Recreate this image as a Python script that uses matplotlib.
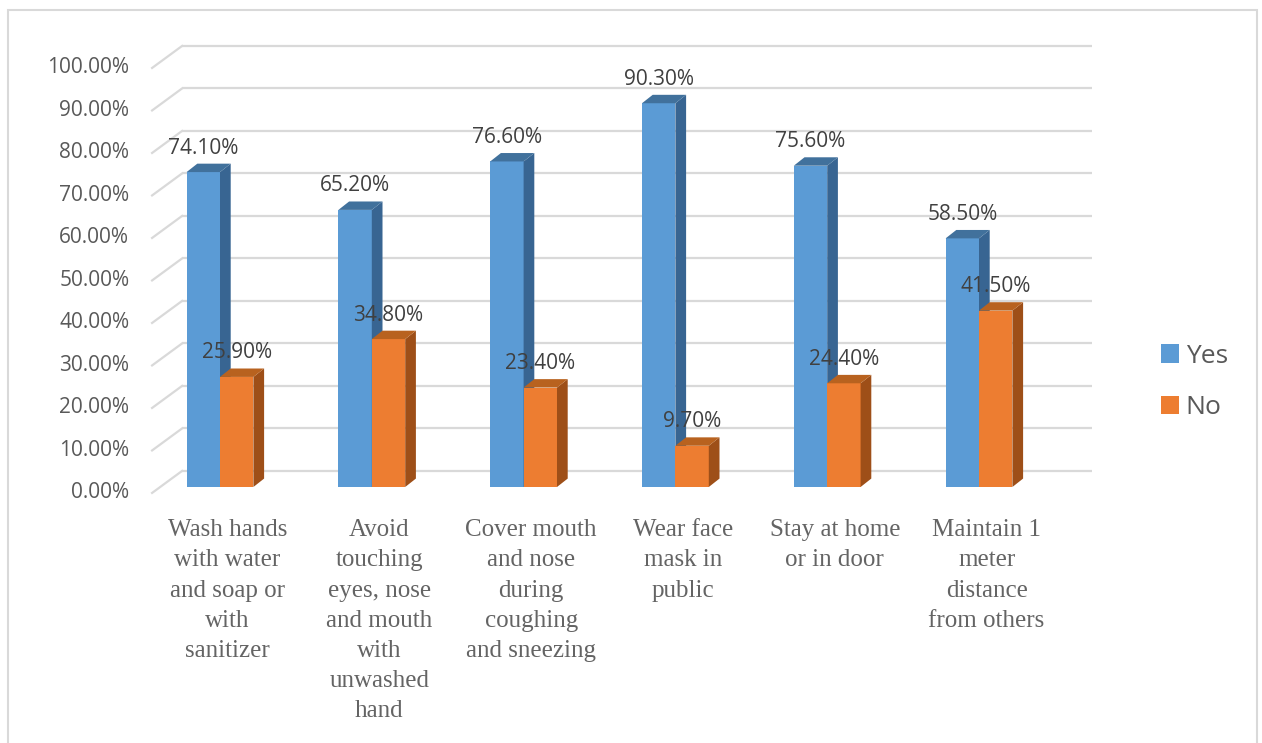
import matplotlib
matplotlib.use("Agg")
import matplotlib.pyplot as plt
from matplotlib.patches import Polygon, Patch, Rectangle

# Data
categories = [
    "Wash hands\nwith water\nand soap or\nwith\nsanitizer",
    "Avoid\ntouching\neyes, nose\nand mouth\nwith\nunwashed\nhand",
    "Cover mouth\nand nose\nduring\ncoughing\nand sneezing",
    "Wear face\nmask in\npublic",
    "Stay at home\nor in door",
    "Maintain 1\nmeter\ndistance\nfrom others",
]
yes_vals = [74.1, 65.2, 76.6, 90.3, 75.6, 58.5]
no_vals = [25.9, 34.8, 23.4, 9.7, 24.4, 41.5]
series_names = ["Yes", "No"]
y_ticks = [0, 10, 20, 30, 40, 50, 60, 70, 80, 90, 100]

# Colours (front, top, side)
BLUE = ("#5B9BD5", "#41719C", "#386592")
ORANGE = ("#ED7D31", "#B8621F", "#9E4F18")
GRID = "#D9D9D9"

# 3D look
BAR_W = 0.22
BAR_DX, BAR_DY = 0.0705, 1.98      # bar depth offset (x units, %)
WALL_DX, WALL_DY = 0.1442, 3.78    # bar plane -> back wall
FLOOR_DX, FLOOR_DY = -0.0534, -1.40  # bar plane -> front floor
WALL_LEFT, WALL_RIGHT = -0.394, 5.601

fig = plt.figure(figsize=(12.62, 7.43), dpi=100)
ax = fig.add_axes([0, 0, 1, 1])
ax.set_xlim(-1.4493, 6.8643)
ax.set_ylim(-60.24, 114.59)
ax.axis("off")

# Outer chart frame
fig.patches.append(Rectangle((8 / 1262, -0.01), 1249 / 1262, 1 - 10 / 743 + 0.01,
                             transform=fig.transFigure, fill=False,
                             edgecolor="#D9D9D9", linewidth=1.5))

# Gridlines on back wall and side diagonals
for t in y_ticks:
    ax.plot([WALL_LEFT + WALL_DX, WALL_RIGHT + WALL_DX], [t + WALL_DY, t + WALL_DY],
            color=GRID, lw=1.6, zorder=1, solid_capstyle="butt")
    ax.plot([WALL_LEFT + FLOOR_DX, WALL_LEFT + WALL_DX], [t + FLOOR_DY, t + WALL_DY],
            color=GRID, lw=1.6, zorder=1)
    ax.text(WALL_LEFT + FLOOR_DX - 0.15, t + FLOOR_DY, f"{t:.2f}%",
            ha="right", va="center", fontsize=15, color="#595959",
            family="Open Sans")


def draw_bar(x0, v, colors, z):
    front, top, side = colors
    x1 = x0 + BAR_W
    ax.bar(x0, v, width=BAR_W, align="edge", color=front, zorder=z, linewidth=0)
    ax.add_patch(Polygon([(x1, 0), (x1 + BAR_DX, BAR_DY), (x1 + BAR_DX, v + BAR_DY), (x1, v)],
                         closed=True, facecolor=side, edgecolor="none", zorder=z))
    ax.add_patch(Polygon([(x0, v), (x1, v), (x1 + BAR_DX, v + BAR_DY), (x0 + BAR_DX, v + BAR_DY)],
                         closed=True, facecolor=top, edgecolor="none", zorder=z))


for i, (y, n) in enumerate(zip(yes_vals, no_vals)):
    draw_bar(i - BAR_W, y, BLUE, 3 + 2 * i)
    draw_bar(i, n, ORANGE, 4 + 2 * i)

# Data labels
for i, (y, n) in enumerate(zip(yes_vals, no_vals)):
    ax.text(i - BAR_W / 2, y + 5.65, f"{y:.2f}%", ha="center", va="center",
            fontsize=15, color="#404040", family="Open Sans", zorder=20)
    ax.text(i + BAR_W / 2, n + 5.65, f"{n:.2f}%", ha="center", va="center",
            fontsize=15, color="#404040", family="Open Sans", zorder=20)

# Category labels
for i, lab in enumerate(categories):
    ax.text(i + 0.05, -7.6, lab, ha="center", va="top", fontsize=18,
            color="#646464", family="Liberation Serif", linespacing=1.48)

# Legend
handles = [Patch(facecolor=BLUE[0]), Patch(facecolor=ORANGE[0])]
fig.legend(handles, series_names, loc="center left",
           bbox_to_anchor=(1137 / 1262, 1 - 382 / 743), frameon=False,
           prop={"family": "Open Sans", "size": 19}, labelcolor="#595959",
           handlelength=0.7, handleheight=0.7, handletextpad=0.25,
           labelspacing=1.0)

fig.savefig("out.png", dpi=100)
